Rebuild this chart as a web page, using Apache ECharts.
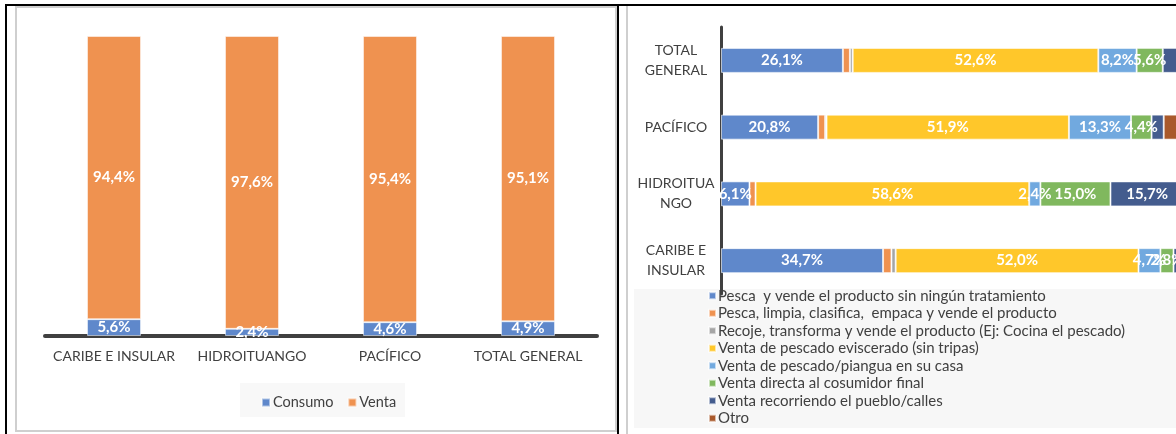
<!DOCTYPE html>
<html>
<head>
<meta charset="utf-8">
<script src="https://cdn.jsdelivr.net/npm/echarts@6/dist/echarts.min.js"></script>
<style>
body { margin: 0; background: #fff; }
#wrap { position: relative; width: 1176px; height: 434px; overflow: hidden; }
#wrap div.deco { position: absolute; }
#chart { position: absolute; left: 0; top: 0; width: 1176px; height: 434px; }
</style>
</head>
<body>
<div id="wrap">
  <div class="deco" style="left:15px;top:6px;width:598px;height:422px;border:2px solid #cfcfcf;"></div>
  <div class="deco" style="left:626px;top:6px;width:2px;height:428px;background:#cfcfcf;"></div>
  <div class="deco" style="left:5px;top:4px;width:1171px;height:2px;background:#000;"></div>
  <div class="deco" style="left:5px;top:4px;width:2px;height:430px;background:#000;"></div>
  <div class="deco" style="left:617px;top:4px;width:2px;height:430px;background:#000;"></div>
  <div class="deco" style="left:240px;top:383px;width:165px;height:34px;background:#f8f8f8;"></div>
  <div class="deco" style="left:634px;top:289px;width:542px;height:139px;background:#f7f7f7;"></div>
  <div id="chart"></div>
</div>
<script>
// left chart: consumo vs venta
const regiones = ['CARIBE E INSULAR', 'HIDROITUANGO', 'PACÍFICO', 'TOTAL GENERAL']
const consumo = [5.6, 2.4, 4.6, 4.9]
const venta = [94.4, 97.6, 95.4, 95.1]

// right chart: tipo de venta (same region order, bottom to top)
const regionesLabel = ['CARIBE E\nINSULAR', 'HIDROITUA\nNGO', 'PACÍFICO', 'TOTAL\nGENERAL']
const tipos = [
  'Pesca  y vende el producto sin ningún tratamiento',
  'Pesca, limpia, clasifica,  empaca y vende el producto',
  'Recoje, transforma y vende el producto (Ej: Cocina el pescado)',
  'Venta de pescado eviscerado (sin tripas)',
  'Venta de pescado/piangua en su casa',
  'Venta directa al cosumidor final',
  'Venta recorriendo el pueblo/calles',
  'Otro'
]
const pescaVende = [34.7, 6.1, 20.8, 26.1]
const limpiaEmpaca = [1.8, 1.3, 1.5, 1.5]
const recojeTransforma = [0.9, 0.0, 0.3, 0.6]
const eviscerado = [52.0, 58.6, 51.9, 52.6]
const enSuCasa = [4.7, 2.4, 13.3, 8.2]
const directa = [2.8, 15.0, 4.4, 5.6]
const recorriendo = [2.2, 15.7, 2.6, 4.6]
const otro = [0.9, 0.9, 5.2, 0.8]

const tiposData = [pescaVende, limpiaEmpaca, recojeTransforma, eviscerado, enSuCasa, directa, recorriendo, otro]
const tiposColor = ['#5f88cb', '#ef9250', '#a5a5a5', '#ffc72a', '#71a9df', '#80b85e', '#445c8e', '#a9592b']
// smallest value that gets a label, per series
const minLabel = [1.7, 99, 99, 1.7, 1.7, 1.7, 5, 99]

const font = 'Lato, "Noto Sans", sans-serif'
const pct = v => v.toFixed(1).replace('.', ',') + '%'

const chart = echarts.init(document.getElementById('chart'))

const barLabel = {
  show: true,
  color: '#fff',
  fontWeight: 'bold',
  fontSize: 15,
  fontFamily: font
}

const series = [
  {
    name: 'Consumo',
    type: 'bar',
    stack: 'a',
    xAxisIndex: 0,
    yAxisIndex: 0,
    barWidth: 54,
    data: consumo,
    itemStyle: { color: '#5f88cb', borderColor: 'rgba(255,255,255,0.5)', borderWidth: 1 },
    label: Object.assign({}, barLabel, { position: 'inside', formatter: p => pct(p.value) })
  },
  {
    name: 'Venta',
    type: 'bar',
    stack: 'a',
    xAxisIndex: 0,
    yAxisIndex: 0,
    barWidth: 54,
    data: venta,
    itemStyle: { color: '#ef9250', borderColor: 'rgba(255,255,255,0.5)', borderWidth: 1 },
    label: Object.assign({}, barLabel, { position: 'inside', formatter: p => pct(p.value) })
  }
]

tiposData.forEach((arr, i) => {
  series.push({
    name: tipos[i],
    type: 'bar',
    stack: 'b',
    xAxisIndex: 1,
    yAxisIndex: 1,
    barWidth: 25,
    data: arr,
    itemStyle: { color: tiposColor[i], borderColor: 'rgba(255,255,255,0.6)', borderWidth: 1 },
    label: Object.assign({}, barLabel, {
      position: 'inside',
      formatter: p => (p.value >= minLabel[i] ? pct(p.value) : '')
    })
  })
})

const option = {
  animation: false,
  textStyle: { fontFamily: font },
  grid: [
    { left: 45, top: 36, width: 552, height: 300, outerBoundsMode: 'none' },
    { left: 721, top: 27, width: 467, height: 267, outerBoundsMode: 'none' }
  ],
  xAxis: [
    {
      gridIndex: 0,
      type: 'category',
      data: regiones,
      axisLine: { lineStyle: { color: '#404040', width: 4 } },
      axisTick: { show: false },
      axisLabel: { color: '#404040', fontSize: 14, margin: 13, interval: 0, fontFamily: font }
    },
    {
      gridIndex: 1,
      type: 'value',
      min: 0,
      max: 100,
      show: false
    }
  ],
  yAxis: [
    {
      gridIndex: 0,
      type: 'value',
      min: 0,
      max: 100,
      show: false
    },
    {
      gridIndex: 1,
      type: 'category',
      data: regionesLabel,
      axisLine: { lineStyle: { color: '#404040', width: 3 } },
      axisTick: { show: false },
      axisLabel: {
        color: '#404040',
        fontSize: 14,
        lineHeight: 20,
        align: 'center',
        margin: 45,
        interval: 0,
        fontFamily: font
      }
    }
  ],
  legend: [
    {
      data: ['Consumo', 'Venta'],
      left: 256,
      top: 390,
      icon: 'rect',
      itemWidth: 8,
      itemHeight: 8,
      itemGap: 14,
      textStyle: { color: '#404040', fontSize: 14.5, fontFamily: font, padding: [0, 0, 0, -2] }
    },
    {
      data: tipos,
      orient: 'vertical',
      left: 708,
      top: 287,
      padding: 0,
      icon: 'rect',
      itemWidth: 7,
      itemHeight: 7,
      itemGap: 0,
      textStyle: { color: '#404040', fontSize: 15, lineHeight: 17.5, fontFamily: font, padding: [0, 0, 0, -3] }
    }
  ],
  series: series
}

chart.setOption(option)
</script>
</body>
</html>
